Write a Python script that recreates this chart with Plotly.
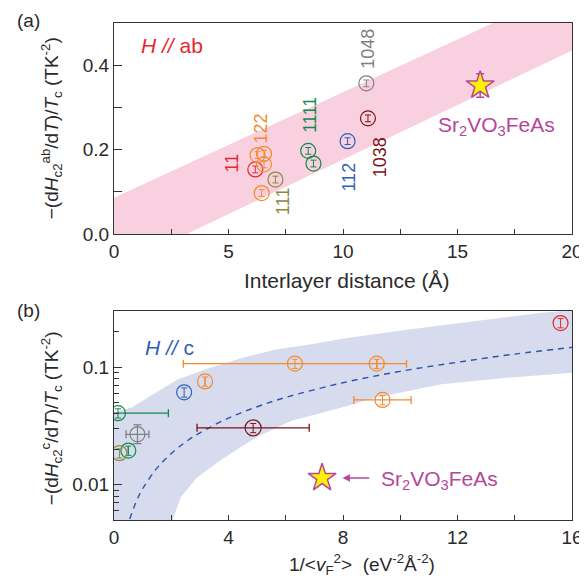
import numpy as np
import plotly.graph_objects as go

# ---------------- Panel (a): -(dHc2ab/dT)/Tc vs interlayer distance ----------------
dist_11 = [6.17];                    hab_11 = [0.153]
dist_122 = [6.27, 6.55, 6.55, 6.45]; hab_122 = [0.187, 0.190, 0.165, 0.097]
dist_111 = [7.05];                   hab_111 = [0.129]
dist_1111 = [8.48, 8.71];            hab_1111 = [0.197, 0.167]
dist_112 = [10.2];                   hab_112 = [0.220]
dist_1048 = [11.02];                 hab_1048 = [0.357]
dist_1038 = [11.09];                 hab_1038 = [0.274]
dist_sr = [15.99];                   hab_sr = [0.352]; hab_sr_err = [0.028]

band_a_x = [0, 20]
band_a_upper = [0.086, 0.586]
band_a_lower = [-0.082, 0.435]

# ---------------- Panel (b): -(dHc2c/dT)/Tc vs 1/<vF^2> ----------------
vf_11 = [15.6];                        hc_11 = [0.237]
vf_122 = [6.32, 9.18, 3.18, 9.38];     hc_122 = [0.107, 0.107, 0.0755, 0.0525]; vf_122_err = [3.9, 0, 0, 1.0]
vf_112 = [2.45];                       hc_112 = [0.061]
vf_1111 = [0.14, 0.5];                 hc_1111 = [0.0405, 0.0195]; vf_1111_err = [1.76, 0]
vf_1038 = [4.86];                      hc_1038 = [0.0304]; vf_1038_err = [1.96]
vf_1048 = [0.82];                      hc_1048 = [0.0268]; vf_1048_err = [0.4]
hc_1048_err_up = [0.0054];             hc_1048_err_dn = [0.0045]
vf_111 = [0.19];                       hc_111 = [0.0185]
vf_sr = [7.27];                        hc_sr = [0.0114]

band_b_upper_x = [0, 0.62, 1.30, 2.22, 3.36, 4.5, 5.64, 6.78, 8.15, 10.3, 12.58, 14.87, 16]
band_b_upper_y = [0.041, 0.0452, 0.0572, 0.0785, 0.0986, 0.12, 0.141, 0.155, 0.177, 0.209, 0.245, 0.288, 0.305]
band_b_lower_x = [0, 1.95, 2.05, 2.33, 2.9, 3.7, 4.5, 5.07, 6.21, 8.15, 9.16, 11.44, 13.73, 16]
band_b_lower_y = [0.004, 0.004, 0.005, 0.0078, 0.0115, 0.016, 0.0214, 0.026, 0.0349, 0.0467, 0.055, 0.0713, 0.0812, 0.0895]

fit_b_x = [0.55, 0.8, 1.0, 1.5, 2.0, 2.5, 3.0, 4.0, 5.0, 6.0, 8.0, 10.0, 12.0, 14.0, 16.0]
fit_b_y = [0.0051, 0.0074, 0.0092, 0.0138, 0.0184, 0.023, 0.0276, 0.0368, 0.046, 0.0552, 0.0736, 0.092, 0.110, 0.129, 0.147]

# colors
RED = '#e8262d'; ORANGE = '#f58a2e'; OLIVE = '#8c8a3c'; GREEN = '#138a4c'
BLUE = '#2f5fb3'; GRAY = '#808080'; DARKRED = '#7b1414'; MAG = '#b5479b'; YEL = '#fff200'
FONT = 'Arial, Liberation Sans, sans-serif'
TXT = '#2a2a2a'

fig = go.Figure()

# ---- panel a band
fig.add_trace(go.Scatter(
    x=band_a_x + band_a_x[::-1], y=band_a_upper + band_a_lower[::-1],
    fill='toself', fillcolor='#f8d0e0', line=dict(width=0), mode='lines',
    hoverinfo='skip', xaxis='x', yaxis='y'))

def circ_a(x, y, color):
    fig.add_trace(go.Scatter(
        x=x, y=y, mode='markers', xaxis='x', yaxis='y',
        marker=dict(symbol='circle-open', size=15, color=color, line=dict(width=1.2, color=color)),
        error_y=dict(type='constant', value=0.008, width=3, thickness=1, color=color)))

circ_a(dist_11, hab_11, RED)
circ_a(dist_122, hab_122, ORANGE)
circ_a(dist_111, hab_111, OLIVE)
circ_a(dist_1111, hab_1111, GREEN)
circ_a(dist_112, hab_112, BLUE)
circ_a(dist_1048, hab_1048, GRAY)
circ_a(dist_1038, hab_1038, DARKRED)
fig.add_trace(go.Scatter(
    x=dist_sr, y=hab_sr, mode='markers', xaxis='x', yaxis='y',
    marker=dict(symbol='star', size=21, color=YEL, line=dict(width=1.5, color=MAG)),
    error_y=dict(type='data', array=hab_sr_err, width=4, thickness=1.5, color=MAG)))

# ---- panel b band & fit
fig.add_trace(go.Scatter(
    x=band_b_upper_x + band_b_lower_x[::-1], y=band_b_upper_y + band_b_lower_y[::-1],
    fill='toself', fillcolor='#d7dbee', line=dict(width=0), mode='lines',
    hoverinfo='skip', xaxis='x2', yaxis='y2'))
fig.add_trace(go.Scatter(
    x=fit_b_x, y=fit_b_y, mode='lines', xaxis='x2', yaxis='y2',
    line=dict(color='#2b55a5', width=1.4, dash='6px,5px'), line_shape='spline'))

def circ_b(x, y, color, xerr=None, yerr_up=None, yerr_dn=None, size=15):
    ey = dict(type='percent', value=9, width=3, thickness=1, color=color)
    if yerr_up is not None:
        ey = dict(type='data', array=yerr_up, arrayminus=yerr_dn, width=4, thickness=1.2, color=color)
    kw = {}
    if xerr is not None:
        kw['error_x'] = dict(type='data', array=xerr, width=4, thickness=1.3, color=color)
    fig.add_trace(go.Scatter(
        x=x, y=y, mode='markers', xaxis='x2', yaxis='y2',
        marker=dict(symbol='circle-open', size=size, color=color, line=dict(width=1.2, color=color)),
        error_y=ey, **kw))

circ_b(vf_11, hc_11, RED)
circ_b(vf_122, hc_122, ORANGE, xerr=vf_122_err)
circ_b(vf_112, hc_112, BLUE)
circ_b(vf_1111, hc_1111, GREEN, xerr=vf_1111_err)
circ_b(vf_1038, hc_1038, DARKRED, xerr=vf_1038_err, size=16)
circ_b(vf_1048, hc_1048, GRAY, xerr=vf_1048_err, yerr_up=hc_1048_err_up, yerr_dn=hc_1048_err_dn)
circ_b(vf_111, hc_111, OLIVE)
fig.add_trace(go.Scatter(
    x=vf_sr, y=hc_sr, mode='markers', xaxis='x2', yaxis='y2',
    marker=dict(symbol='star', size=21, color=YEL, line=dict(width=1.5, color=MAG))))

# ---- annotations
ann = []
def lab_a(txt, x, y, color):
    ann.append(dict(text=txt, x=x, y=y, xref='x', yref='y', showarrow=False, textangle=-90,
                    xanchor='center', yanchor='middle',
                    font=dict(family=FONT, size=18, color=color)))
lab_a('11', 5.14, 0.169, RED)
lab_a('122', 6.38, 0.250, ORANGE)
lab_a('111', 7.38, 0.076, OLIVE)
lab_a('1111', 8.55, 0.282, GREEN)
lab_a('112', 10.26, 0.136, BLUE)
lab_a('1048', 11.09, 0.439, GRAY)
lab_a('1038', 11.59, 0.183, DARKRED)
ann.append(dict(text='Sr<sub>2</sub>VO<sub>3</sub>FeAs', x=16.7, y=0.256, xref='x', yref='y',
                showarrow=False, font=dict(family=FONT, size=21, color=MAG)))
ann.append(dict(text='<i>H</i> <i>//</i> ab', x=2.53, y=0.447, xref='x', yref='y',
                showarrow=False, font=dict(family=FONT, size=21, color=RED)))

ann.append(dict(text='<i>H</i> <i>//</i> c', x=1.94, y=np.log10(0.146), xref='x2', yref='y2',
                showarrow=False, font=dict(family=FONT, size=21, color=BLUE)))
ann.append(dict(text='Sr<sub>2</sub>VO<sub>3</sub>FeAs', x=11.36, y=np.log10(0.0109), xref='x2', yref='y2',
                showarrow=False, font=dict(family=FONT, size=21, color=MAG)))
ann.append(dict(text='', x=7.98, y=np.log10(0.0114), xref='x2', yref='y2',
                ax=8.97, ay=np.log10(0.0114), axref='x2', ayref='y2',
                showarrow=True, arrowhead=2, arrowsize=1, arrowwidth=1.5, arrowcolor=MAG))

# panel letters and axis titles (paper coords from pixel positions)
L, R, T, B = 106, 14, 15, 73
W, H = 587, 585
PW, PH = W - L - R, H - T - B
def px(xp): return (xp - L) / PW
def py(yp): return (H - B - yp) / PH

def pann(text, xp, yp, size, angle=0):
    ann.append(dict(text=text, x=px(xp), y=py(yp), xref='paper', yref='paper', showarrow=False,
                    xanchor='center', yanchor='middle', textangle=angle,
                    font=dict(family=FONT, size=size, color=TXT)))

pann('(a)', 19, 12, 19)
pann('(b)', 19, 302, 19)
pann('−(d<i>H</i><sub>c2</sub><sup>ab</sup>/d<i>T</i>)/<i>T</i><sub>c</sub> (TK<sup>-2</sup>)', 42, 120, 19, -90)
pann('−(d<i>H</i><sub>c2</sub><sup>c</sup>/d<i>T</i>)/<i>T</i><sub>c</sub> (TK<sup>-2</sup>)', 42, 410, 19, -90)
pann('Interlayer distance (Å)', 343, 272, 21)
pann('1/<<i>v</i><sub>F</sub><sup>2</sup>>  (eV<sup>-2</sup>Å<sup>-2</sup>)', 359, 556, 19)

axcommon = dict(showline=True, mirror=True, linecolor='#333', linewidth=1, showgrid=False,
                zeroline=False, ticks='inside', tickcolor='#333',
                tickfont=dict(family=FONT, size=19, color=TXT))

fig.update_layout(
    width=W, height=H, margin=dict(l=L, r=R, t=T, b=B),
    paper_bgcolor='white', plot_bgcolor='white', showlegend=False,
    annotations=ann,
    xaxis=dict(domain=[0, 1], anchor='y', range=[0, 20], tickvals=[0, 5, 10, 15, 20], ticklen=5,
               minor=dict(tickvals=[2.5, 7.5, 12.5, 17.5], ticks='inside', ticklen=5, tickcolor='#333'),
               **axcommon),
    yaxis=dict(domain=[py(226), 1], anchor='x', range=[0, 0.5], tickvals=[0, 0.2, 0.4],
               ticktext=['0.0', '0.2', '0.4'], ticklen=8,
               minor=dict(tickvals=[0.1, 0.3], ticks='inside', ticklen=8, tickcolor='#333'),
               **axcommon),
    xaxis2=dict(domain=[0, 1], anchor='y2', range=[0, 16], tickvals=[0, 4, 8, 12, 16], ticklen=5,
                minor=dict(tickvals=[2, 6, 10, 14], ticks='inside', ticklen=5, tickcolor='#333'),
                **axcommon),
    yaxis2=dict(domain=[0, py(303)], anchor='x2', type='log',
                range=[np.log10(0.005), np.log10(0.3)], tickvals=[0.01, 0.1], ticktext=['0.01', '0.1'],
                ticklen=8,
                minor=dict(tickvals=[0.006, 0.007, 0.008, 0.009, 0.02, 0.03, 0.04, 0.05, 0.06, 0.07,
                                     0.08, 0.09, 0.2, 0.3],
                           ticks='inside', ticklen=5, tickcolor='#333'),
                **axcommon),
)

fig.write_html('out.html')
